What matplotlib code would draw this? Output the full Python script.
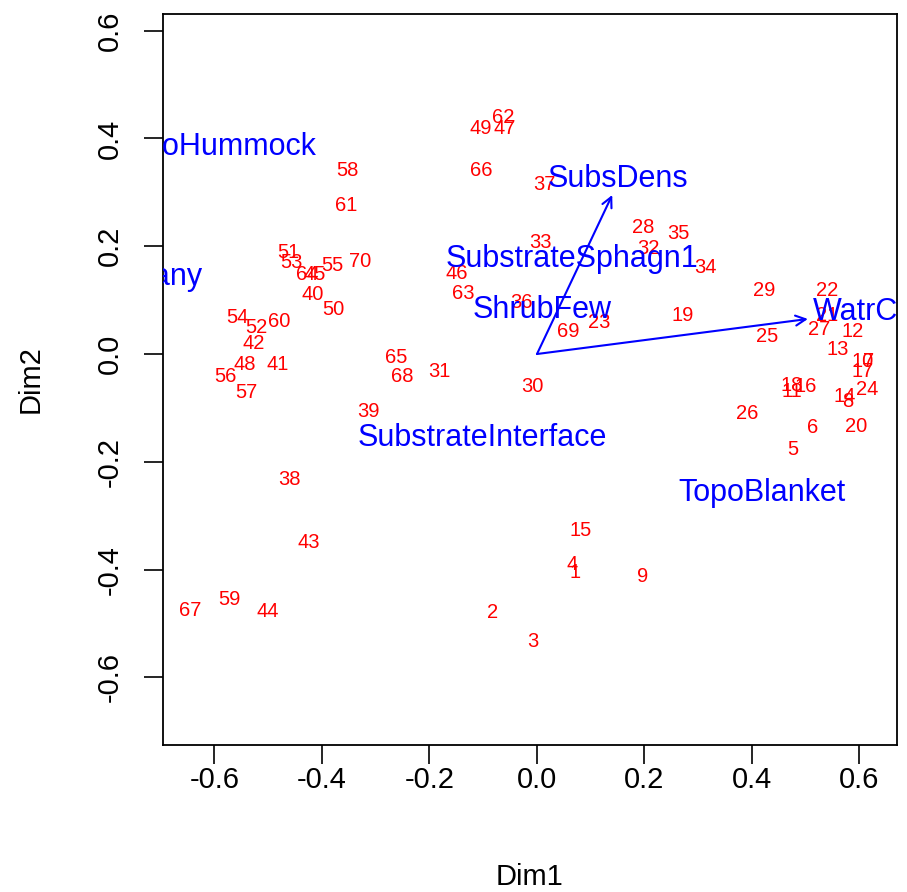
import numpy as np
import matplotlib
matplotlib.use('Agg')
import matplotlib.pyplot as plt

plt.rcParams['font.family'] = ['Liberation Sans', 'DejaVu Sans']
plt.rcParams['axes.unicode_minus'] = False

# site scores (Dim1, Dim2), sites 1..70
site_id = list(range(1, 71))
dim1 = [0.071, -0.082, -0.007, 0.065, 0.476, 0.512, 0.616, 0.579, 0.197, 0.605,
        0.474, 0.588, 0.560, 0.573, 0.082, 0.499, 0.605, 0.473, 0.272, 0.593,
        0.540, 0.540, 0.115, 0.614, 0.428, 0.391, 0.525, 0.197, 0.422, -0.009,
        -0.182, 0.207, 0.007, 0.314, 0.264, -0.028, 0.013, -0.461, -0.313, -0.417,
        -0.482, -0.528, -0.424, -0.500, -0.413, -0.149, -0.060, -0.543, -0.104, -0.378,
        -0.463, -0.523, -0.456, -0.558, -0.381, -0.580, -0.540, -0.352, -0.573, -0.480,
        -0.355, -0.063, -0.138, -0.428, -0.262, -0.104, -0.646, -0.251, 0.058, -0.329]
dim2 = [-0.406, -0.479, -0.534, -0.391, -0.178, -0.137, -0.013, -0.089, -0.412, -0.013,
        -0.069, 0.041, 0.009, -0.078, -0.328, -0.061, -0.033, -0.058, 0.072, -0.135,
        0.072, 0.117, 0.058, -0.065, 0.032, -0.111, 0.045, 0.234, 0.117, -0.061,
        -0.033, 0.195, 0.206, 0.161, 0.223, 0.096, 0.315, -0.232, -0.106, 0.111,
        -0.020, 0.019, -0.349, -0.477, 0.147, 0.150, 0.419, -0.020, 0.419, 0.082,
        0.189, 0.050, 0.169, 0.067, 0.165, -0.041, -0.071, 0.341, -0.456, 0.061,
        0.276, 0.438, 0.113, 0.147, -0.007, 0.340, -0.475, -0.041, 0.041, 0.171]

# continuous variables (arrows) and their label positions
vec_names = ['SubsDens', 'WatrCont']
vec_x = [0.140, 0.504]
vec_y = [0.295, 0.065]
vec_lab_x = [0.151, 0.632]
vec_lab_y = [0.325, 0.078]

# factor centroids
fac_names = ['SubstrateSphagn1', 'ShrubFew', 'SubstrateInterface', 'TopoBlanket',
             'TopoHummock', 'ShrubMany']
fac_x = [0.065, 0.009, -0.102, 0.419, -0.599, -0.767]
fac_y = [0.176, 0.082, -0.156, -0.258, 0.384, 0.143]

W, H = 907, 892
fig = plt.figure(figsize=(W / 100, H / 100), dpi=100)
ax = fig.add_axes([163 / W, 1 - 745 / H, (897 - 163) / W, (745 - 14) / H])

for i in range(len(site_id)):
    ax.text(dim1[i], dim2[i], str(site_id[i]), color='red', fontsize=14.5,
            ha='center', va='center', clip_on=True)

for i in range(len(vec_names)):
    ax.annotate('', xy=(vec_x[i], vec_y[i]), xytext=(0, 0),
                arrowprops=dict(arrowstyle='->', color='blue', lw=1.5,
                                mutation_scale=18, shrinkA=0, shrinkB=0))
    ax.text(vec_lab_x[i], vec_lab_y[i], vec_names[i], color='blue', fontsize=22,
            ha='center', va='center', clip_on=True)

for i in range(len(fac_names)):
    ax.text(fac_x[i], fac_y[i], fac_names[i], color='blue', fontsize=22,
            ha='center', va='center', clip_on=True)

ax.set_xlim(-0.6958, 0.6698)
ax.set_ylim(-0.7254, 0.6308)
ax.set_xticks([-0.6, -0.4, -0.2, 0.0, 0.2, 0.4, 0.6])
ax.set_yticks([-0.6, -0.4, -0.2, 0.0, 0.2, 0.4, 0.6])
ax.set_xticklabels(['-0.6', '-0.4', '-0.2', '0.0', '0.2', '0.4', '0.6'])
ax.set_yticklabels(['-0.6', '-0.4', '-0.2', '0.0', '0.2', '0.4', '0.6'],
                   rotation=90, va='center')
ax.tick_params(length=14, width=1.2, labelsize=21)
ax.tick_params(axis='x', pad=1)
ax.tick_params(axis='y', pad=14)
for s in ax.spines.values():
    s.set_linewidth(1.3)

ax.set_xlabel('Dim1', fontsize=21, labelpad=50)
ax.set_ylabel('Dim2', fontsize=21, labelpad=37)

fig.savefig('out.png', dpi=100)
